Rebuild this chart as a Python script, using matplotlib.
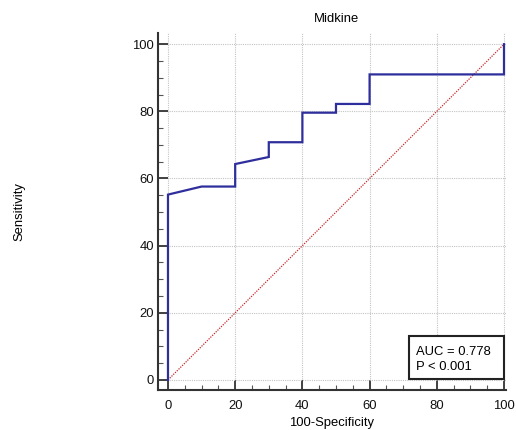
import matplotlib
matplotlib.use("Agg")
import matplotlib.pyplot as plt
from matplotlib.ticker import MultipleLocator
from matplotlib.patches import Rectangle

plt.rcParams["font.family"] = ["Liberation Sans", "DejaVu Sans"]

# ROC curve (100-specificity, sensitivity)
fpr = [0, 0, 10, 20, 20, 30, 30, 40, 40, 50, 50, 60, 60, 100, 100]
tpr = [0, 55.2, 57.6, 57.6, 64.3, 66.4, 70.8, 70.8, 79.6, 79.6, 82.2, 82.2, 91.0, 91.0, 100]
ref = [0, 100]
auc = 0.778
pval = "< 0.001"
title = "Midkine"

fig = plt.figure(figsize=(5.16, 4.30), dpi=100)
ax = fig.add_axes([0.306, 0.093, 0.674, 0.830])

ax.plot(ref, ref, color="#c42a2a", lw=0.9, ls=(0, (1, 1)), zorder=2)
ax.plot(fpr, tpr, color="#2e2e9c", lw=1.6, zorder=3, solid_joinstyle="miter")

ax.set_xlim(-3, 100.5)
ax.set_ylim(-3, 103.3)
ax.xaxis.set_major_locator(MultipleLocator(20))
ax.yaxis.set_major_locator(MultipleLocator(20))
ax.xaxis.set_minor_locator(MultipleLocator(5))
ax.yaxis.set_minor_locator(MultipleLocator(5))
ax.grid(True, which="major", color="#c4c4c4", lw=0.8, ls=(0, (1, 1)), zorder=1)

for s in ["top", "right"]:
    ax.spines[s].set_visible(False)
for s in ["left", "bottom"]:
    ax.spines[s].set_linewidth(1.5)
    ax.spines[s].set_color("#333333")

fs = 9.4
ax.tick_params(which="major", direction="in", length=7, width=1.3, color="#333333",
               labelsize=fs, labelcolor="#111111")
ax.tick_params(which="minor", direction="in", length=3.5, width=0.8, color="#555555")
ax.tick_params(axis="y", which="major", pad=3)
ax.tick_params(axis="x", which="major", pad=7)

ax.set_xlabel("100-Specificity", fontsize=fs, labelpad=4)
ax.set_ylabel("Sensitivity", fontsize=fs)
ax.yaxis.set_label_coords(-0.38, 0.5)
ax.set_title(title, fontsize=fs, pad=8, x=0.513)

# AUC box
ax.add_patch(Rectangle((71.8, 0.3), 28.2, 12.8, fc="white", ec="#222222", lw=1.5,
                       zorder=4, clip_on=False))
ax.text(73.9, 6.1, f"AUC = {auc:.3f}\nP {pval}", fontsize=fs, ha="left", va="center",
        multialignment="left", linespacing=1.25, zorder=5)

fig.savefig("out.png", dpi=100)
